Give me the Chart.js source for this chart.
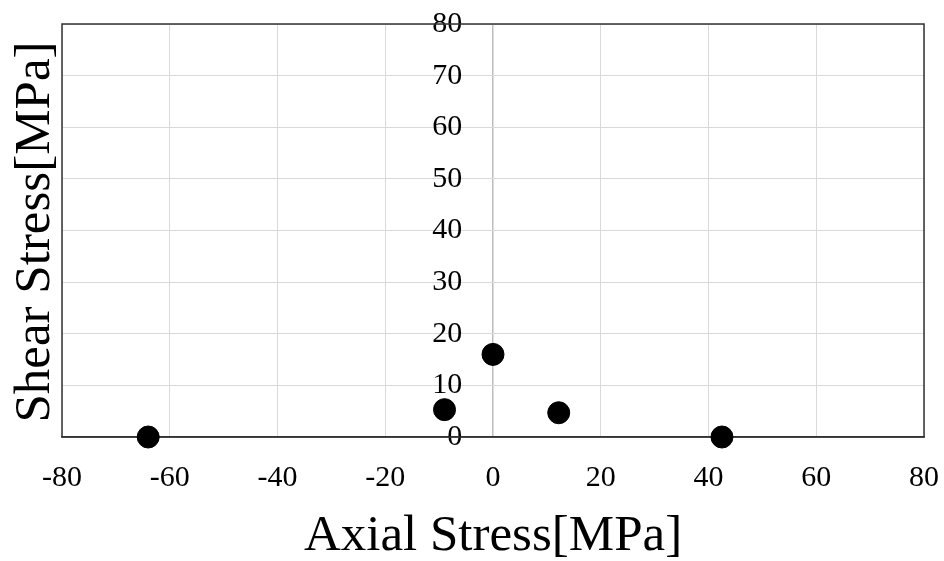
<!DOCTYPE html>
<html>
<head>
<meta charset="utf-8">
<script src="https://cdn.jsdelivr.net/npm/chart.js@4"></script>
<style>
  html, body { margin: 0; padding: 0; background: #fff; }
  #wrap { width: 944px; height: 561px; }
</style>
</head>
<body>
<div id="wrap"><canvas id="chart"></canvas></div>
<script>
// data
var axialStress = [-64, -9, 0, 12.2, 42.5];
var shearStress = [0, 5.3, 16, 4.7, 0];
var xTicks = [-80, -60, -40, -20, 0, 20, 40, 60, 80];
var yTicks = [0, 10, 20, 30, 40, 50, 60, 70, 80];

var points = axialStress.map(function (x, i) { return { x: x, y: shearStress[i] }; });
var serif = "'Liberation Serif', 'Times New Roman', serif";

// frame round the plot area + y title on the far left
var framePlugin = {
  id: 'frame',
  beforeDatasetsDraw: function (chart) {
    var a = chart.chartArea, ctx = chart.ctx;
    ctx.save();
    ctx.strokeStyle = '#333';
    ctx.lineWidth = 1.5;
    ctx.strokeRect(a.left, a.top, a.right - a.left, a.bottom - a.top);
    ctx.restore();
  },
  afterDraw: function (chart) {
    var ctx = chart.ctx;
    ctx.save();
    ctx.translate(36, 232);
    ctx.rotate(-Math.PI / 2);
    ctx.font = '51px ' + serif;
    ctx.fillStyle = '#000';
    ctx.textAlign = 'center';
    ctx.textBaseline = 'middle';
    ctx.fillText('Shear Stress[MPa]', 0, 0);
    ctx.restore();
  }
};

new Chart(document.getElementById('chart'), {
  type: 'scatter',
  data: {
    datasets: [{
      data: points,
      backgroundColor: '#000',
      borderColor: '#000',
      pointRadius: 11,
      pointHoverRadius: 11,
      clip: false
    }]
  },
  options: {
    responsive: true,
    maintainAspectRatio: false,
    animation: false,
    layout: { autoPadding: false, padding: { left: 62, right: 20, top: 24, bottom: 0 } },
    plugins: { legend: { display: false }, tooltip: { enabled: false } },
    scales: {
      x: {
        type: 'linear',
        min: -80,
        max: 80,
        afterBuildTicks: function (s) { s.ticks = xTicks.map(function (v) { return { value: v }; }); },
        afterFit: function (s) { s.height = 124; s.paddingLeft = 0; s.paddingRight = 0; },
        grid: {
          color: function (c) { return c.tick && c.tick.value === 0 ? '#bdbdbd' : '#d9d9d9'; },
          lineWidth: function (c) { return c.tick && c.tick.value === 0 ? 1.5 : 1; },
          drawTicks: false
        },
        border: { color: '#333', width: 1.5 },
        ticks: { color: '#000', padding: 23, maxRotation: 0, font: { family: serif, size: 30 } },
        title: { display: true, text: 'Axial Stress[MPa]', color: '#000', padding: 0, font: { family: serif, size: 51, lineHeight: 0.95 } }
      },
      y: {
        type: 'linear',
        // tick labels sit just left of the x = 0 line
        position: { x: -5.7 },
        min: 0,
        max: 80,
        afterBuildTicks: function (s) { s.ticks = yTicks.map(function (v) { return { value: v }; }); },
        afterFit: function (s) { s.width = 0; s.paddingTop = 0; s.paddingBottom = 0; },
        grid: { color: '#d9d9d9', drawTicks: false },
        border: { display: false },
        ticks: { color: '#000', font: { family: serif, size: 30 } }
      }
    }
  },
  plugins: [framePlugin]
});
</script>
</body>
</html>
